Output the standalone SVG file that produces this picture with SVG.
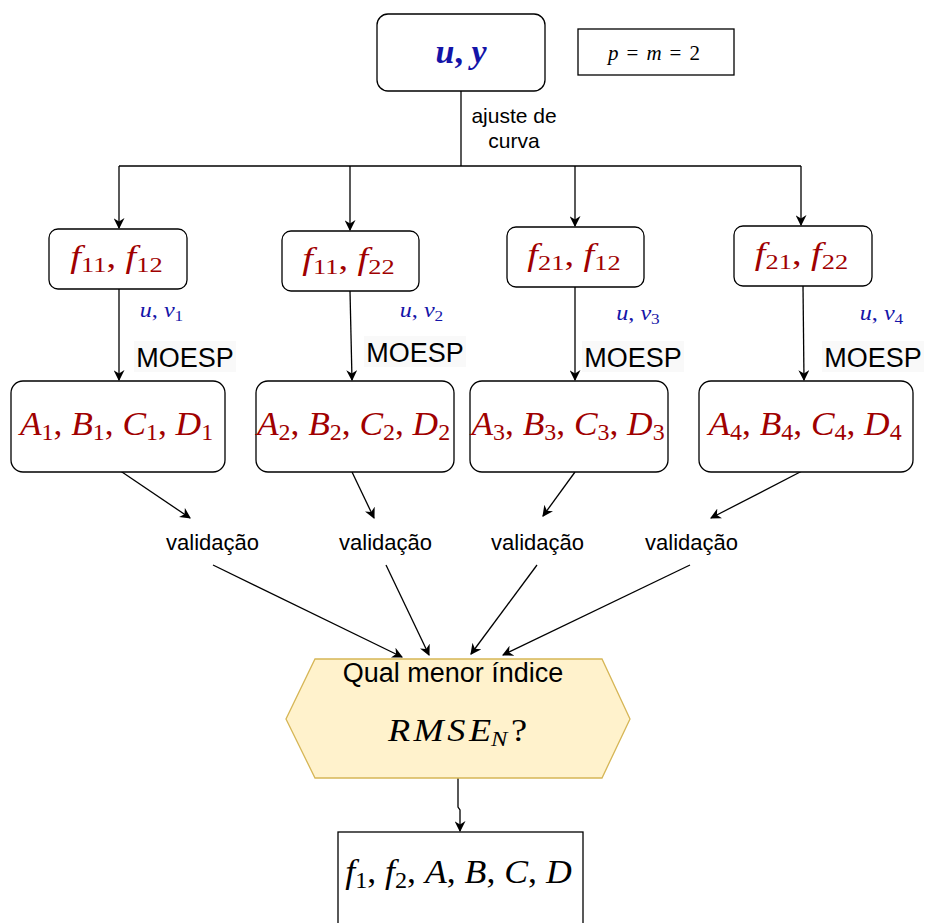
<svg xmlns="http://www.w3.org/2000/svg" width="927" height="923" viewBox="0 0 927 923">
  <style>
    .box { fill: #ffffff; stroke: #000000; stroke-width: 1.3; }
    .edge { fill: none; stroke: #000000; stroke-width: 1.3; }
    .lbl { font-family: "Liberation Sans", Arial, sans-serif; fill: #000000; text-anchor: middle; }
    .math { font-family: "Liberation Serif", "Times New Roman", serif; font-style: italic; text-anchor: middle; }
    .red { fill: #a00000; }
    .blue { fill: #1414a8; }
    .sub { font-style: normal; }
    .up { font-style: normal; }
    .lblbg { fill: #f9f9f9; }
  </style>
  <defs>
    <marker id="arrow" viewBox="0 0 10 10" refX="9" refY="5" markerWidth="11" markerHeight="11" markerUnits="userSpaceOnUse" orient="auto">
      <path d="M0,0 L10,5 L0,10 L3,5 Z" fill="#000000"/>
    </marker>
  </defs>

  <!-- connectors -->
  <g id="connectors">
    <path class="edge" d="M461,91 V166"/>
    <path class="edge" d="M119,166 H801"/>
    <path class="edge" d="M119,166 V228" marker-end="url(#arrow)"/>
    <path class="edge" d="M350,166 V230" marker-end="url(#arrow)"/>
    <path class="edge" d="M575,166 V226" marker-end="url(#arrow)"/>
    <path class="edge" d="M801,166 V225" marker-end="url(#arrow)"/>

    <path class="edge" d="M119,289 V380" marker-end="url(#arrow)"/>
    <path class="edge" d="M350,291 L352,380" marker-end="url(#arrow)"/>
    <path class="edge" d="M575,287 V380" marker-end="url(#arrow)"/>
    <path class="edge" d="M803,286 L804,380" marker-end="url(#arrow)"/>

    <path class="edge" d="M119,470 L190,518" marker-end="url(#arrow)"/>
    <path class="edge" d="M352,472 L374,518" marker-end="url(#arrow)"/>
    <path class="edge" d="M575,472 L543,516" marker-end="url(#arrow)"/>
    <path class="edge" d="M804,470 L711,518" marker-end="url(#arrow)"/>

    <path class="edge" d="M213,565 L402,657" marker-end="url(#arrow)"/>
    <path class="edge" d="M386,565 L429,655" marker-end="url(#arrow)"/>
    <path class="edge" d="M537,565 L471,654" marker-end="url(#arrow)"/>
    <path class="edge" d="M690,565 L503,655" marker-end="url(#arrow)"/>

    <path class="edge" d="M458,778 V807 L460,810 V831" marker-end="url(#arrow)"/>
  </g>

  <!-- edge labels -->
  <g id="edge-labels">
    <text class="lbl" x="514" y="123" font-size="21">ajuste de</text>
    <text class="lbl" x="514" y="148" font-size="21">curva</text>

    <g transform="translate(161.5,317) scale(1.15,1)">
      <text class="math blue" font-size="21">u<tspan class="up">, </tspan>v<tspan class="sub" font-size="15" dy="4">1</tspan></text>
    </g>
    <g transform="translate(421.5,317) scale(1.15,1)">
      <text class="math blue" font-size="21">u<tspan class="up">, </tspan>v<tspan class="sub" font-size="15" dy="4">2</tspan></text>
    </g>
    <g transform="translate(638,320) scale(1.15,1)">
      <text class="math blue" font-size="21">u<tspan class="up">, </tspan>v<tspan class="sub" font-size="15" dy="4">3</tspan></text>
    </g>
    <g transform="translate(881.5,320) scale(1.15,1)">
      <text class="math blue" font-size="21">u<tspan class="up">, </tspan>v<tspan class="sub" font-size="15" dy="4">4</tspan></text>
    </g>

    <rect class="lblbg" x="134" y="341" width="102" height="31"/>
    <text class="lbl" x="185" y="367" font-size="27">MOESP</text>
    <rect class="lblbg" x="364" y="336" width="102" height="31"/>
    <text class="lbl" x="415" y="362" font-size="27">MOESP</text>
    <rect class="lblbg" x="582" y="341" width="102" height="31"/>
    <text class="lbl" x="633" y="367" font-size="27">MOESP</text>
    <rect class="lblbg" x="822" y="341" width="102" height="31"/>
    <text class="lbl" x="873" y="367" font-size="27">MOESP</text>

    <text class="lbl" x="212.5" y="550" font-size="22">validação</text>
    <text class="lbl" x="385.5" y="550" font-size="22">validação</text>
    <text class="lbl" x="537.5" y="550" font-size="22">validação</text>
    <text class="lbl" x="691.5" y="550" font-size="22">validação</text>
  </g>

  <!-- input signals -->
  <g id="node-uy">
    <rect class="box" x="377" y="14" width="168" height="77" rx="11"/>
    <text class="math blue" x="461" y="63" font-size="34" font-weight="bold">u<tspan class="up">, </tspan>y</text>
  </g>

  <g id="node-pm">
    <rect class="box" x="578" y="29" width="156" height="46"/>
    <text class="math" x="654" y="60" font-size="21" fill="#000000">p<tspan class="up" dx="8">=</tspan><tspan dx="8">m</tspan><tspan class="up" dx="8">=</tspan><tspan class="up" dx="8">2</tspan></text>
  </g>

  <!-- curve pairs -->
  <g id="node-f1">
    <rect class="box" x="49" y="229" width="138" height="60" rx="9"/>
    <g transform="translate(116.5,267) scale(1.2,1)">
      <text class="math red" font-size="32">f<tspan class="sub" font-size="22" dy="5">11</tspan><tspan class="up" dy="-5">, </tspan>f<tspan class="sub" font-size="22" dy="5">12</tspan></text>
    </g>
  </g>
  <g id="node-f2">
    <rect class="box" x="282" y="231" width="137" height="60" rx="9"/>
    <g transform="translate(348.5,269) scale(1.2,1)">
      <text class="math red" font-size="32">f<tspan class="sub" font-size="22" dy="5">11</tspan><tspan class="up" dy="-5">, </tspan>f<tspan class="sub" font-size="22" dy="5">22</tspan></text>
    </g>
  </g>
  <g id="node-f3">
    <rect class="box" x="507" y="227" width="137" height="60" rx="9"/>
    <g transform="translate(574,265) scale(1.2,1)">
      <text class="math red" font-size="32">f<tspan class="sub" font-size="22" dy="5">21</tspan><tspan class="up" dy="-5">, </tspan>f<tspan class="sub" font-size="22" dy="5">12</tspan></text>
    </g>
  </g>
  <g id="node-f4">
    <rect class="box" x="734" y="226" width="138" height="60" rx="9"/>
    <g transform="translate(801.5,264) scale(1.2,1)">
      <text class="math red" font-size="32">f<tspan class="sub" font-size="22" dy="5">21</tspan><tspan class="up" dy="-5">, </tspan>f<tspan class="sub" font-size="22" dy="5">22</tspan></text>
    </g>
  </g>

  <!-- identified state-space models -->
  <g id="node-abcd1">
    <rect class="box" x="11" y="381" width="214" height="91" rx="12"/>
    <g transform="translate(116.5,435) scale(1.04,1)">
      <text class="math red" font-size="34">A<tspan class="sub" font-size="23" dy="5">1</tspan><tspan class="up" dy="-5">, </tspan>B<tspan class="sub" font-size="23" dy="5">1</tspan><tspan class="up" dy="-5">, </tspan>C<tspan class="sub" font-size="23" dy="5">1</tspan><tspan class="up" dy="-5">, </tspan>D<tspan class="sub" font-size="23" dy="5">1</tspan></text>
    </g>
  </g>
  <g id="node-abcd2">
    <rect class="box" x="256" y="381" width="198" height="91" rx="12"/>
    <g transform="translate(353.5,435) scale(1.04,1)">
      <text class="math red" font-size="34">A<tspan class="sub" font-size="23" dy="5">2</tspan><tspan class="up" dy="-5">, </tspan>B<tspan class="sub" font-size="23" dy="5">2</tspan><tspan class="up" dy="-5">, </tspan>C<tspan class="sub" font-size="23" dy="5">2</tspan><tspan class="up" dy="-5">, </tspan>D<tspan class="sub" font-size="23" dy="5">2</tspan></text>
    </g>
  </g>
  <g id="node-abcd3">
    <rect class="box" x="470" y="381" width="198" height="91" rx="12"/>
    <g transform="translate(568,435) scale(1.04,1)">
      <text class="math red" font-size="34">A<tspan class="sub" font-size="23" dy="5">3</tspan><tspan class="up" dy="-5">, </tspan>B<tspan class="sub" font-size="23" dy="5">3</tspan><tspan class="up" dy="-5">, </tspan>C<tspan class="sub" font-size="23" dy="5">3</tspan><tspan class="up" dy="-5">, </tspan>D<tspan class="sub" font-size="23" dy="5">3</tspan></text>
    </g>
  </g>
  <g id="node-abcd4">
    <rect class="box" x="699" y="381" width="214" height="91" rx="12"/>
    <g transform="translate(805,435) scale(1.04,1)">
      <text class="math red" font-size="34">A<tspan class="sub" font-size="23" dy="5">4</tspan><tspan class="up" dy="-5">, </tspan>B<tspan class="sub" font-size="23" dy="5">4</tspan><tspan class="up" dy="-5">, </tspan>C<tspan class="sub" font-size="23" dy="5">4</tspan><tspan class="up" dy="-5">, </tspan>D<tspan class="sub" font-size="23" dy="5">4</tspan></text>
    </g>
  </g>

  <!-- selection step -->
  <g id="node-decision">
    <polygon points="315,659 602,659 630,719 602,778 315,778 286,719" fill="#fff2cc" stroke="#d6b656" stroke-width="1.3"/>
    <text class="lbl" x="453" y="682" font-size="27">Qual menor índice</text>
    <g transform="translate(457.5,741) scale(1.17,1)">
      <text class="math" font-size="31" fill="#000000">R<tspan dx="3">M</tspan><tspan dx="3">S</tspan><tspan dx="3">E</tspan><tspan font-size="21" dy="5">N</tspan><tspan class="up" dx="3" dy="-5">?</tspan></text>
    </g>
  </g>

  <!-- selected result -->
  <g id="node-result">
    <rect class="box" x="338" y="832" width="245" height="100"/>
    <g transform="translate(458.5,883) scale(1.05,1)">
      <text class="math" font-size="34" fill="#000000">f<tspan class="sub" font-size="23" dy="5">1</tspan><tspan class="up" dy="-5">, </tspan>f<tspan class="sub" font-size="23" dy="5">2</tspan><tspan class="up" dy="-5">, </tspan>A<tspan class="up">, </tspan>B<tspan class="up">, </tspan>C<tspan class="up">, </tspan>D</text>
    </g>
  </g>
</svg>
